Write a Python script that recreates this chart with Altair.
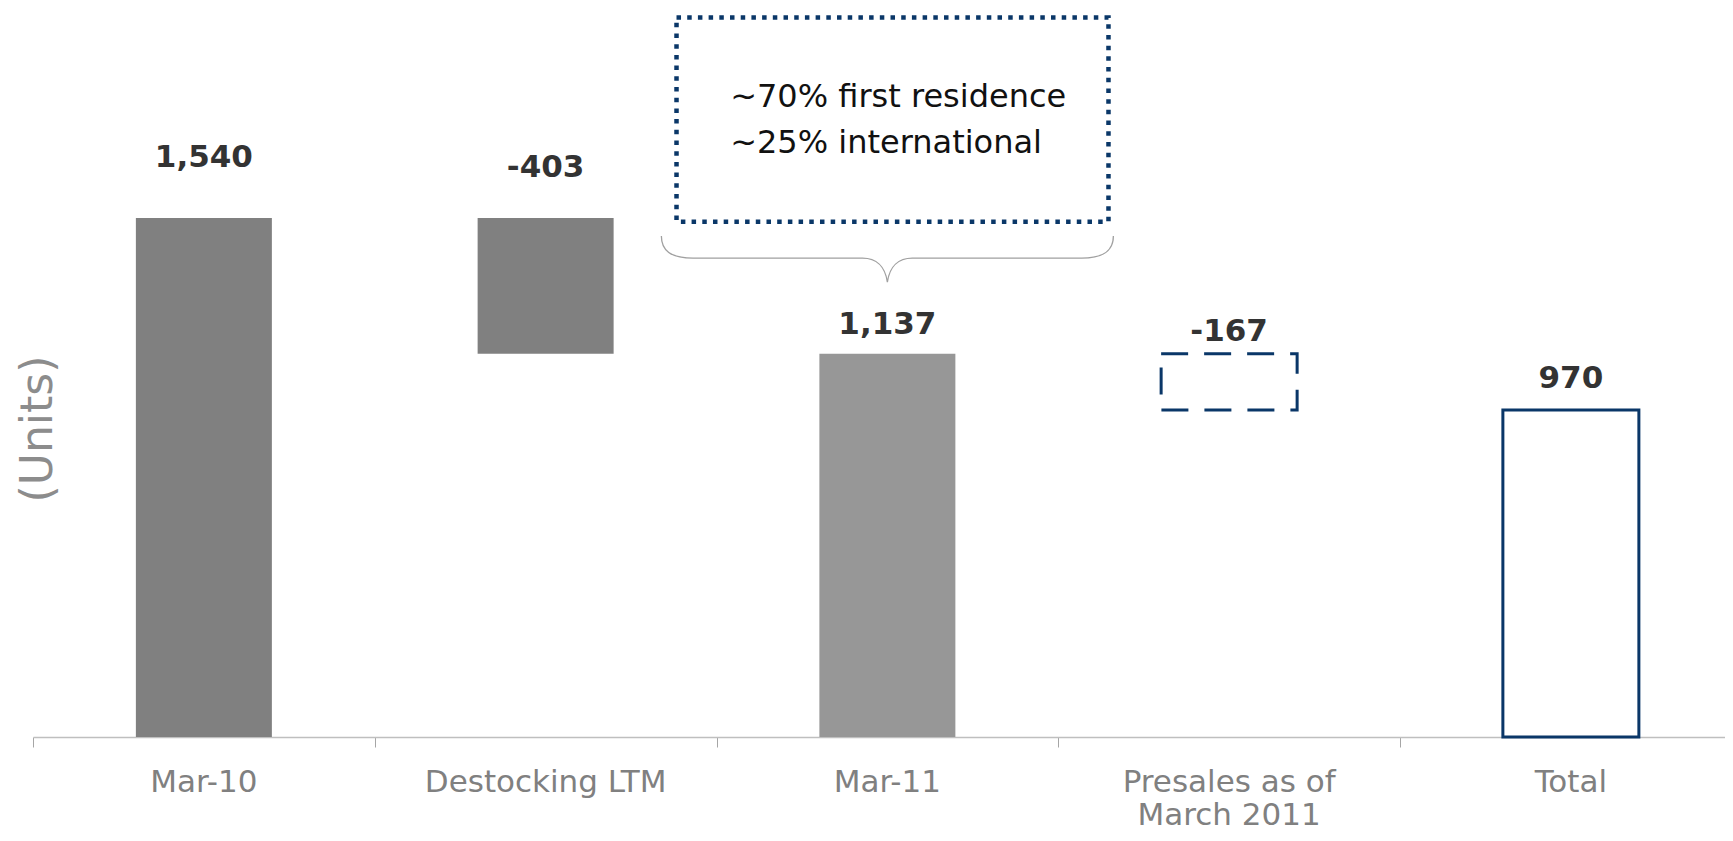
import altair as alt
import pandas as pd

# ---- data ----
categories = ["Mar-10", "Destocking LTM", "Mar-11", "Presales as of\nMarch 2011", "Total"]
values = [1540, -403, 1137, -167, 970]
kinds = ["total", "delta", "total", "delta", "total"]
value_labels = ["1,540", "-403", "1,137", "-167", "970"]
annotation_lines = ["~70% first residence", "~25% international"]
y_title = "(Units)"

# ---- layout / style constants ----
FONT = "DejaVu Sans"
NAVY = "#0a3768"
PLOT_W, PLOT_H = 1692, 729
XMAX = PLOT_W / 341.75          # one category band = 341.75 px
YMAX = PLOT_H / 0.337           # 0.337 px per unit
label_gap = [51, 41, 20, 13, 22]  # px between bar top and value label baseline

rows = []
running = 0
for i, (c, v, k, lab) in enumerate(zip(categories, values, kinds, value_labels)):
    if k == "total":
        lo, hi = 0, v
        running = v
    else:
        lo, hi = running + v, running
        running = running + v
    rows.append({"idx": i, "cat": c, "pos": i + 0.5, "lo": lo, "hi": hi, "label": lab})
df = pd.DataFrame(rows)

xscale = alt.Scale(domain=[0, XMAX], nice=False, zero=False, padding=0)
yscale = alt.Scale(domain=[0, YMAX], nice=False, zero=True, padding=0)
xaxis = alt.Axis(values=[0, 1, 2, 3, 4, 5], labels=False, ticks=True, tickSize=10,
                 tickColor="#a6a6a6", tickWidth=1, domainColor="#bfbfbf",
                 domainWidth=1.5, grid=False, title=None)


def X(field):
    return alt.X(field, type="quantitative", scale=xscale, axis=xaxis)


def Y(field):
    return alt.Y(field, type="quantitative", scale=yscale, axis=None)


base = alt.Chart(df)

solid = base.transform_filter("datum.idx <= 2").mark_bar(width=136).encode(
    x=X("pos"), y=Y("lo"), y2="hi",
    color=alt.Color("cat:N", scale=alt.Scale(domain=categories[:3],
                                             range=["#808080", "#808080", "#979797"]),
                    legend=None),
)

presales = base.transform_filter("datum.idx == 3").mark_bar(
    width=136, fill="white", fillOpacity=0, stroke=NAVY, strokeWidth=3, strokeDash=[27, 16]
).encode(x=X("pos"), y=Y("lo"), y2="hi")

total = base.transform_filter("datum.idx == 4").mark_bar(
    width=136, fill="white", stroke=NAVY, strokeWidth=3
).encode(x=X("pos"), y=Y("lo"), y2="hi")

value_layers = []
for i in range(len(categories)):
    value_layers.append(
        base.transform_filter(f"datum.idx == {i}").mark_text(
            font=FONT, fontSize=31, fontWeight="bold", color="#333333",
            baseline="alphabetic", align="center", dy=-label_gap[i]
        ).encode(x=X("pos"), y=Y("hi"), text="label:N")
    )

cat_labels = base.mark_text(
    font=FONT, fontSize=31, color="#808080", baseline="alphabetic", align="center",
    lineBreak="\n", lineHeight=33
).encode(x=X("pos"), y=alt.value(784), text="cat:N")

units = alt.Chart(pd.DataFrame({"t": [y_title]})).mark_text(
    font=FONT, fontSize=44, color="#8c8c8c", angle=270, align="center", baseline="middle"
).encode(x=alt.value(5.5), y=alt.value(421), text="t:N")

# annotation: dotted box with two lines of text, and a brace over Mar-11
box_df = pd.DataFrame({"x0": [1.883], "x1": [3.147], "y0": [1529.0], "y1": [2135.0]})
box = alt.Chart(box_df).mark_rect(
    fillOpacity=0, stroke=NAVY, strokeWidth=4.5, strokeDash=[4.5, 6.2]
).encode(x=X("x0"), x2="x1", y=Y("y0"), y2="y1")

note_df = pd.DataFrame({"t": annotation_lines, "x": [2.04, 2.04], "y": [1869.4, 1732.9]})
note = alt.Chart(note_df).mark_text(
    font=FONT, fontSize=32, color="#111111", align="left", baseline="alphabetic"
).encode(x=X("x"), y=Y("y"), text="t:N")

BRACE = ("M -1 -0.2035 C -1 -0.14 -0.96 -0.106 -0.86 -0.106 L -0.11 -0.106 "
         "C -0.05 -0.106 -0.01 -0.07 0 0 C 0.01 -0.07 0.05 -0.106 0.11 -0.106 "
         "L 0.86 -0.106 C 0.96 -0.106 1 -0.14 1 -0.2035")
brace_df = pd.DataFrame({"x": [2.5], "y": [1350.0]})
brace = alt.Chart(brace_df).mark_point(
    shape=BRACE, size=452 * 452, filled=False, stroke="#a0a0a0", strokeWidth=1.3, opacity=1
).encode(x=X("x"), y=Y("y"))

chart = alt.layer(
    solid, presales, total, *value_layers, cat_labels, units, box, note, brace
).properties(
    width=PLOT_W, height=PLOT_H,
    background="white",
    autosize=alt.AutoSizeParams(type="none"),
    padding={"left": 25, "top": 0, "right": 0, "bottom": 96},
).configure_view(stroke=None)

chart.save("out.html", embed_options={"renderer": "svg", "actions": False})
